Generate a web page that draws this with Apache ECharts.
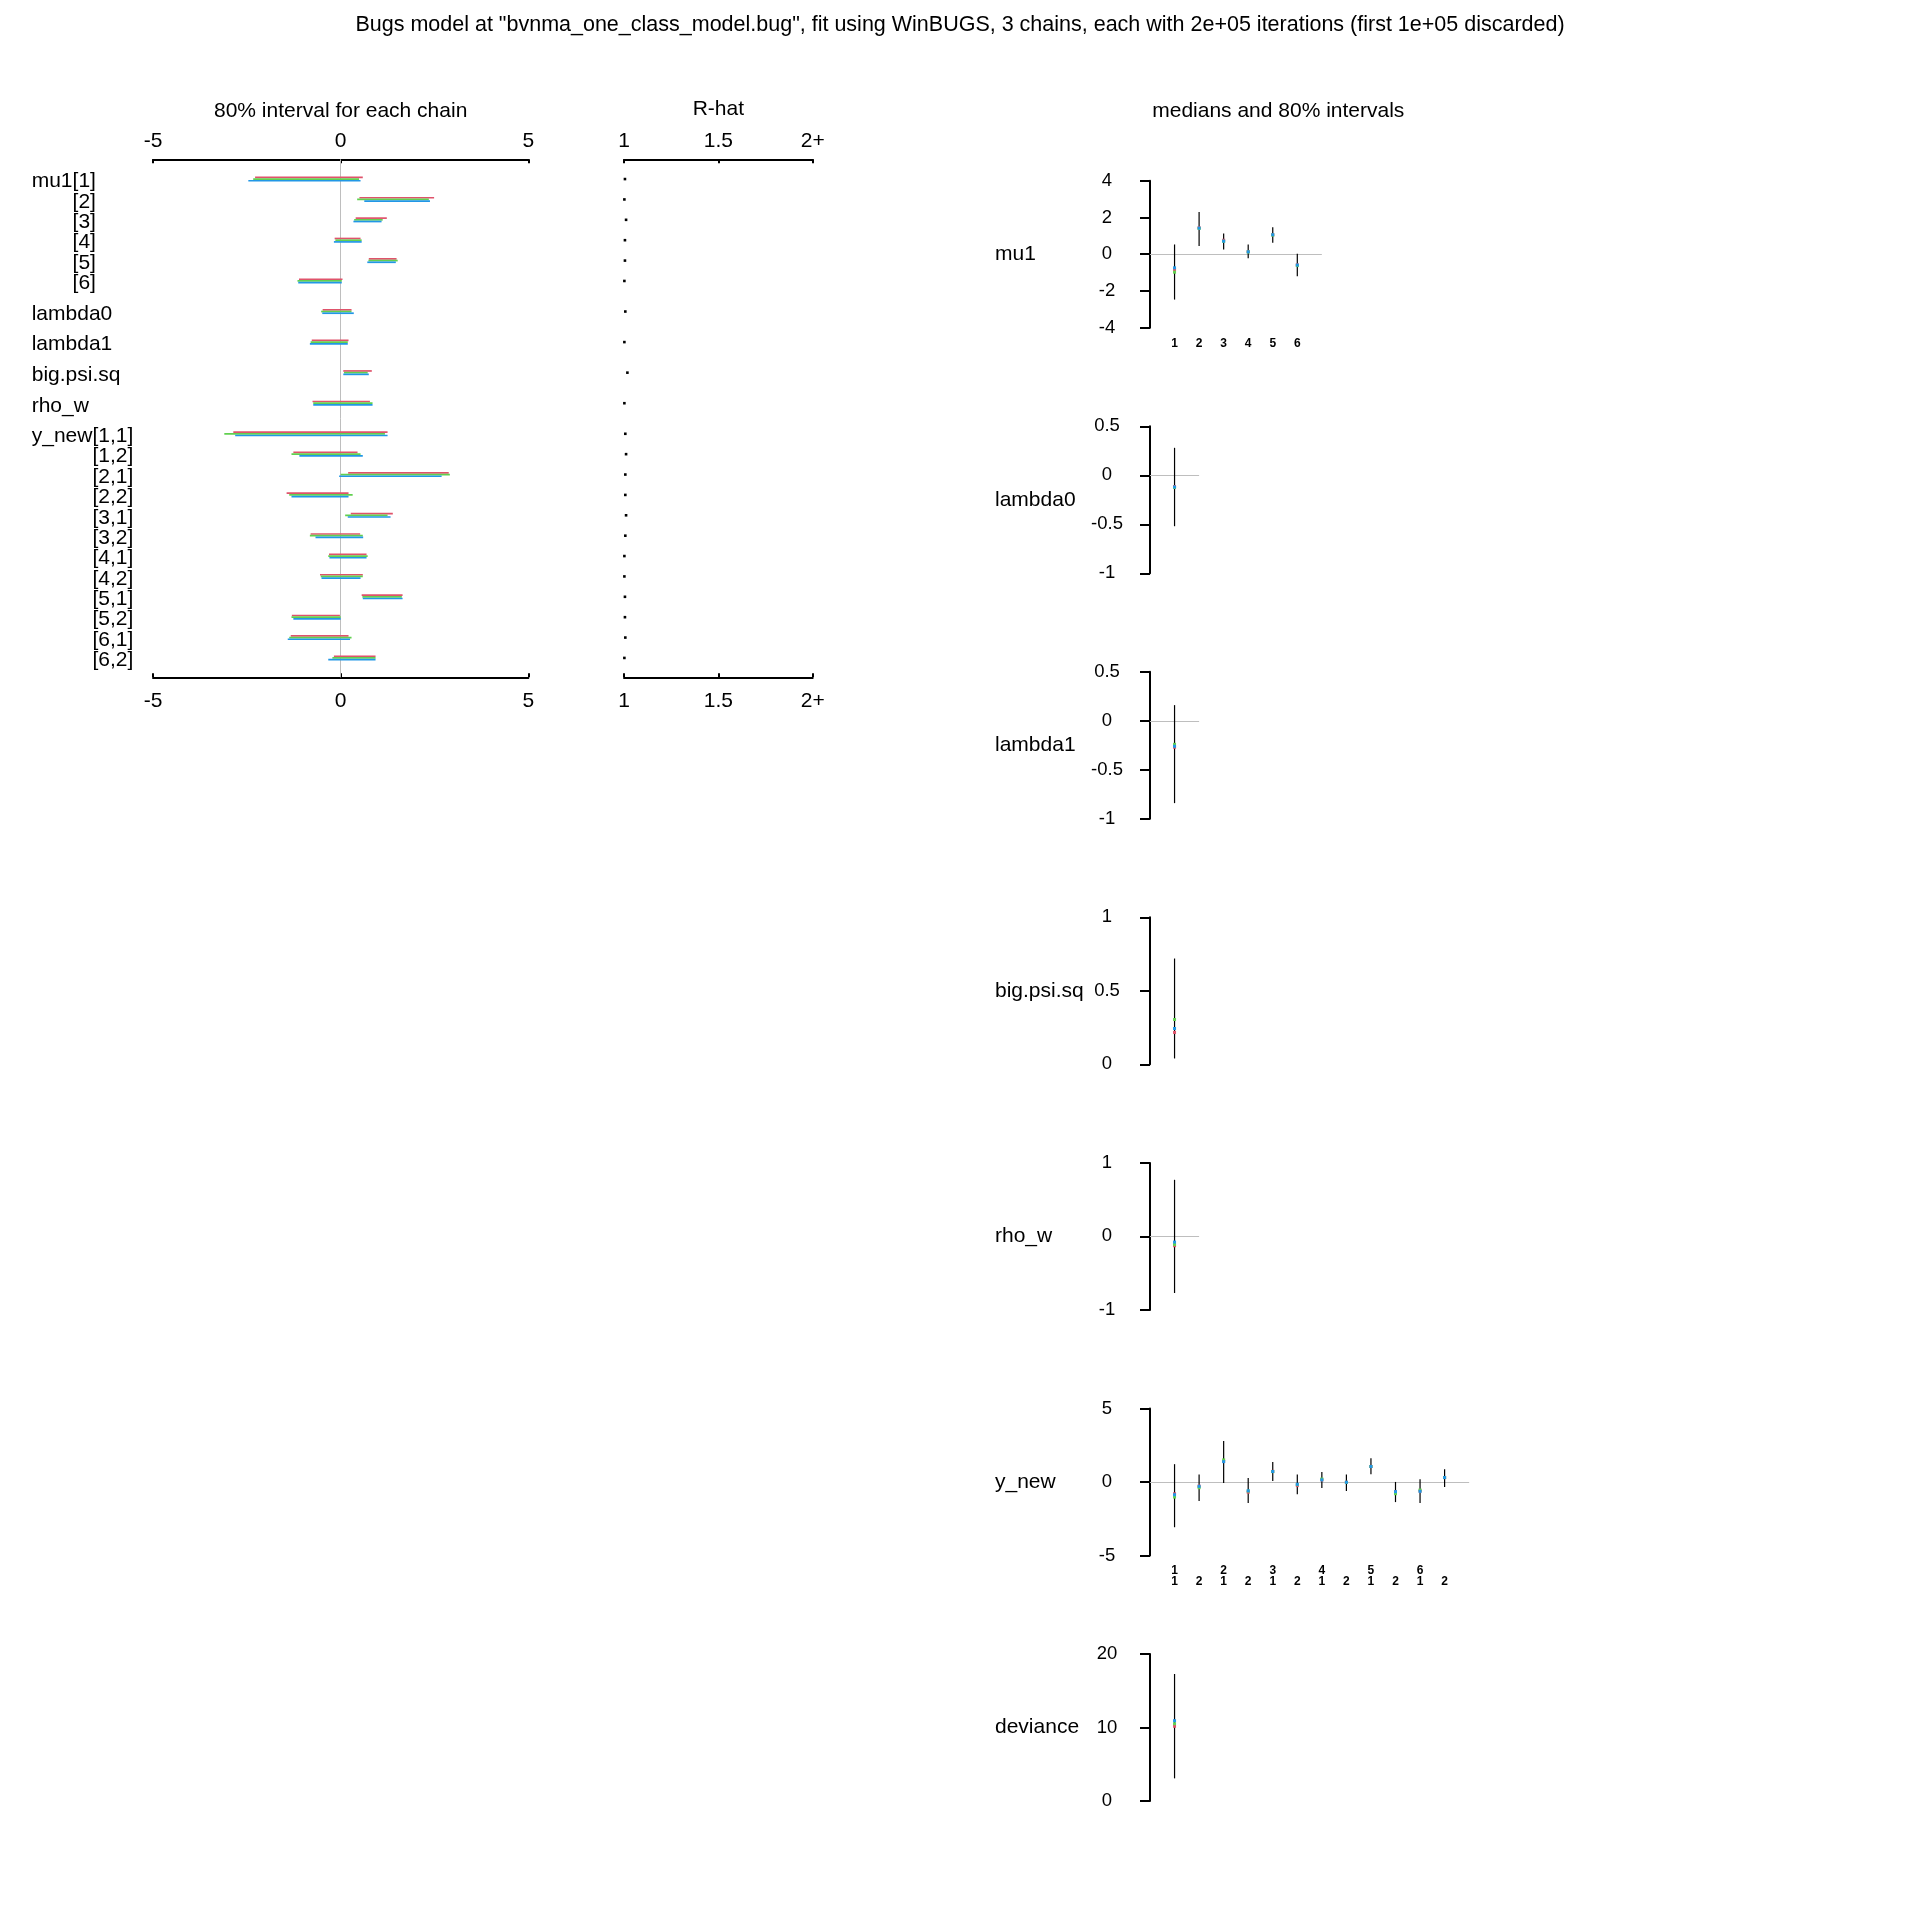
<!DOCTYPE html>
<html><head><meta charset="utf-8">
<script src="https://cdn.jsdelivr.net/npm/echarts@6/dist/echarts.min.js"></script>
<style>html,body{margin:0;padding:0;background:#fff}#c{width:1920px;height:1920px}</style>
</head><body><div id="c"></div>
<script>
const FONT = '"Liberation Sans", Arial, sans-serif';
const BLACK = '#000000', GRAY = '#BEBEBE';
const CH_COLORS = ['#DF536B', '#61D04F', '#2297E6'];

const mainTitle = 'Bugs model at "bvnma_one_class_model.bug", fit using WinBUGS, 3 chains, each with 2e+05 iterations (first 1e+05 discarded)';

// ---- left panel: 80% interval for each chain ----
const groupNames = ['mu1', 'lambda0', 'lambda1', 'big.psi.sq', 'rho_w', 'y_new'];
const groupIndices = [
  ['[1]', '[2]', '[3]', '[4]', '[5]', '[6]'],
  [''], [''], [''], [''],
  ['[1,1]', '[1,2]', '[2,1]', '[2,2]', '[3,1]', '[3,2]', '[4,1]', '[4,2]', '[5,1]', '[5,2]', '[6,1]', '[6,2]']
];
const redLo   = [-2.28, 0.50, 0.40, -0.16, 0.75, -1.11, -0.48, -0.77, 0.07, -0.75, -2.86, -1.26, 0.20, -1.44, 0.27, -0.80, -0.31, -0.55, 0.56, -1.30, -1.33, -0.18];
const redHi   = [0.59, 2.49, 1.23, 0.53, 1.49, 0.05, 0.29, 0.21, 0.83, 0.78, 1.25, 0.45, 2.88, 0.21, 1.39, 0.52, 0.69, 0.59, 1.65, -0.02, 0.21, 0.93];
const greenLo = [-2.33, 0.44, 0.36, -0.14, 0.74, -1.15, -0.52, -0.80, 0.09, -0.73, -3.10, -1.31, 0.00, -1.37, 0.12, -0.82, -0.33, -0.53, 0.58, -1.31, -1.37, -0.22];
const greenHi = [0.49, 2.35, 1.12, 0.56, 1.52, 0.03, 0.29, 0.19, 0.72, 0.85, 1.18, 0.53, 2.91, 0.32, 1.25, 0.59, 0.72, 0.59, 1.63, 0.00, 0.29, 0.93];
const blueLo  = [-2.46, 0.63, 0.34, -0.18, 0.71, -1.13, -0.49, -0.82, 0.07, -0.73, -2.81, -1.10, -0.04, -1.31, 0.19, -0.67, -0.30, -0.51, 0.59, -1.26, -1.41, -0.33];
const blueHi  = [0.53, 2.38, 1.09, 0.56, 1.47, 0.03, 0.35, 0.19, 0.75, 0.85, 1.25, 0.59, 2.69, 0.21, 1.33, 0.60, 0.69, 0.53, 1.65, 0.00, 0.25, 0.93];

// ---- R-hat ----
const rhat = [1.005, 1.002, 1.011, 1.005, 1.005, 1.002, 1.007, 1.002, 1.018, 1.002, 1.007, 1.011, 1.007, 1.007, 1.011, 1.007, 1.002, 1.002, 1.005, 1.005, 1.007, 1.002];
const rhatTickLabels = ['1', '1.5', '2+'];

// ---- right panels: medians and 80% intervals ----
const mu1Lo = [-2.47, 0.44, 0.25, -0.22, 0.62, -1.20];
const mu1Hi = [0.53, 2.30, 1.13, 0.53, 1.47, 0.02];
const mu1MedR = [-0.83, 1.44, 0.76, 0.14, 1.06, -0.58];
const mu1MedG = [-0.98, 1.40, 0.70, 0.12, 1.04, -0.62];
const mu1MedB = [-0.74, 1.42, 0.71, 0.13, 1.06, -0.59];
const mu1Ticks = ['1', '2', '3', '4', '5', '6'];

const lambda0Lo = [-0.52], lambda0Hi = [0.28];
const lambda0MedR = [-0.115], lambda0MedG = [-0.125], lambda0MedB = [-0.12];

const lambda1Lo = [-0.84], lambda1Hi = [0.16];
const lambda1MedR = [-0.27], lambda1MedG = [-0.24], lambda1MedB = [-0.26];

const bigPsiLo = [0.04], bigPsiHi = [0.72];
const bigPsiMedR = [0.217], bigPsiMedG = [0.305], bigPsiMedB = [0.244];

const rhoLo = [-0.77], rhoHi = [0.77];
const rhoMedR = [-0.127], rhoMedG = [-0.11], rhoMedB = [-0.077];

const ynewLo = [-3.08, -1.30, -0.07, -1.44, 0.07, -0.84, -0.41, -0.62, 0.53, -1.37, -1.44, -0.34];
const ynewHi = [1.21, 0.50, 2.79, 0.27, 1.35, 0.50, 0.68, 0.50, 1.62, 0.00, 0.18, 0.87];
const ynewMedR = [-0.80, -0.28, 1.40, -0.70, 0.72, -0.25, 0.14, -0.02, 1.05, -0.66, -0.62, 0.30];
const ynewMedG = [-1.03, -0.39, 1.50, -0.62, 0.70, -0.18, 0.20, -0.03, 1.05, -0.80, -0.55, 0.30];
const ynewMedB = [-0.87, -0.30, 1.38, -0.60, 0.71, -0.16, 0.14, -0.02, 1.05, -0.66, -0.64, 0.30];
const ynewTicks = ['1\n1', ' \n2', '2\n1', ' \n2', '3\n1', ' \n2', '4\n1', ' \n2', '5\n1', ' \n2', '6\n1', ' \n2'];

const devLo = [3.08], devHi = [17.28];
const devMedR = [10.16], devMedG = [10.52], devMedB = [10.93];

const panels = [
  {name: 'mu1', lo: mu1Lo, hi: mu1Hi, med: [mu1MedR, mu1MedG, mu1MedB], ticks: mu1Ticks, min: -4, max: 4, interval: 2},
  {name: 'lambda0', lo: lambda0Lo, hi: lambda0Hi, med: [lambda0MedR, lambda0MedG, lambda0MedB], ticks: null, min: -1, max: 0.5, interval: 0.5},
  {name: 'lambda1', lo: lambda1Lo, hi: lambda1Hi, med: [lambda1MedR, lambda1MedG, lambda1MedB], ticks: null, min: -1, max: 0.5, interval: 0.5},
  {name: 'big.psi.sq', lo: bigPsiLo, hi: bigPsiHi, med: [bigPsiMedR, bigPsiMedG, bigPsiMedB], ticks: null, min: 0, max: 1, interval: 0.5},
  {name: 'rho_w', lo: rhoLo, hi: rhoHi, med: [rhoMedR, rhoMedG, rhoMedB], ticks: null, min: -1, max: 1, interval: 1},
  {name: 'y_new', lo: ynewLo, hi: ynewHi, med: [ynewMedR, ynewMedG, ynewMedB], ticks: ynewTicks, min: -5, max: 5, interval: 5},
  {name: 'deviance', lo: devLo, hi: devHi, med: [devMedR, devMedG, devMedB], ticks: null, min: 0, max: 20, interval: 10}
];

// ---- build row positions for left panels ----
const rows = [];
(function () {
  let u = 0;
  groupNames.forEach((g, gi) => {
    if (gi > 0) u += 0.5;
    groupIndices[gi].forEach((ix, k) => {
      const lab = (k === 0) ? ('{v|' + g + ix + '}') : ('{h|' + g + '}{v|' + ix + '}');
      rows.push({u: u, label: lab});
      u += 1;
    });
  });
})();

const chart = echarts.init(document.getElementById('c'), null, {renderer: 'canvas', width: 1920, height: 1920});

const grids = [], xAxes = [], yAxes = [], series = [];
const txt = (size, extra) => Object.assign({fontSize: size, color: BLACK, fontFamily: FONT, fontWeight: 'normal'}, extra || {});
const axLine = {show: true, onZero: false, lineStyle: {color: BLACK, width: 2}};
const axTickIn = {show: true, inside: true, length: 4, lineStyle: {color: BLACK, width: 2}};

// grid 0 : chain intervals; grid 1 : R-hat
grids.push({left: 153, top: 159.3, width: 375.3, height: 518});
grids.push({left: 624, top: 159.3, width: 188.7, height: 518});

const leftFmt = v => String(v);
const rhatFmt = v => rhatTickLabels[Math.round((v - 1) * 2)];

xAxes.push({gridIndex: 0, type: 'value', position: 'top', min: -5, max: 5, interval: 5,
  axisLine: axLine, axisTick: axTickIn, splitLine: {show: false},
  axisLabel: txt(21, {margin: 8, formatter: leftFmt}),
  name: '80% interval for each chain', nameLocation: 'middle', nameGap: 38, nameTextStyle: txt(21)});
xAxes.push({gridIndex: 0, type: 'value', position: 'bottom', min: -5, max: 5, interval: 5,
  axisLine: axLine, axisTick: axTickIn, splitLine: {show: false},
  axisLabel: txt(21, {margin: 13, formatter: leftFmt})});
xAxes.push({gridIndex: 1, type: 'value', position: 'top', min: 1, max: 2, interval: 0.5,
  axisLine: axLine, axisTick: axTickIn, splitLine: {show: false},
  axisLabel: txt(21, {margin: 8, formatter: rhatFmt}),
  name: 'R-hat', nameLocation: 'middle', nameGap: 40, nameTextStyle: txt(21)});
xAxes.push({gridIndex: 1, type: 'value', position: 'bottom', min: 1, max: 2, interval: 0.5,
  axisLine: axLine, axisTick: axTickIn, splitLine: {show: false},
  axisLabel: txt(21, {margin: 13, formatter: rhatFmt})});

yAxes.push({gridIndex: 0, type: 'value', inverse: true, min: -0.97, max: 24.45, show: false});
yAxes.push({gridIndex: 1, type: 'value', inverse: true, min: -0.97, max: 24.45, show: false});

// gray zero line (left)
series.push({type: 'scatter', xAxisIndex: 0, yAxisIndex: 0, data: [], z: 1, silent: true,
  markLine: {silent: true, z: 1, symbol: 'none', label: {show: false}, animation: false,
    lineStyle: {color: GRAY, width: 1, type: 'solid', opacity: 1}, data: [{xAxis: 0}]}});

// chain interval bars
const chainLo = [redLo, greenLo, blueLo], chainHi = [redHi, greenHi, blueHi];
const chainOffset = [-1.7, 0, 1.7];
[0, 1, 2].forEach(c => {
  series.push({
    type: 'custom', xAxisIndex: 0, yAxisIndex: 0, z: 3, silent: true,
    data: rows.map((r, i) => [chainLo[c][i], chainHi[c][i], r.u]),
    encode: {x: [0, 1], y: 2},
    renderItem: (params, api) => {
      const p1 = api.coord([api.value(0), api.value(2)]);
      const p2 = api.coord([api.value(1), api.value(2)]);
      const off = chainOffset[c];
      return {type: 'line', shape: {x1: p1[0], y1: p1[1] + off, x2: p2[0], y2: p2[1] + off},
        style: {stroke: CH_COLORS[c], lineWidth: 1.7}};
    }
  });
});

// row labels
series.push({
  type: 'scatter', xAxisIndex: 0, yAxisIndex: 0, symbolSize: 0, silent: true, z: 4,
  itemStyle: {opacity: 1},
  data: rows.map(r => [-5, r.u]),
  label: {show: true, position: 'left', distance: 0, align: 'left', verticalAlign: 'middle', offset: [-121.3, 2.5],
    color: BLACK, opacity: 1, fontSize: 21, fontFamily: FONT,
    formatter: p => rows[p.dataIndex].label,
    rich: {h: {color: 'rgba(0,0,0,0)', fontSize: 21, fontFamily: FONT}, v: {color: BLACK, fontSize: 21, fontFamily: FONT}}}
});

// R-hat dots
series.push({
  type: 'scatter', xAxisIndex: 2, yAxisIndex: 1, symbol: 'rect', symbolSize: 2.6, silent: true,
  itemStyle: {color: BLACK, opacity: 1}, data: rows.map((r, i) => [rhat[i], r.u])
});

// right panels
panels.forEach((p, i) => {
  const gi = 2 + i;
  const n = p.lo.length;
  const xi = xAxes.length, yi = yAxes.length;
  grids.push({left: 1150, top: 180.7 + 245.55 * i, width: (n + 1) * 24.55, height: 147});
  xAxes.push({gridIndex: gi, type: 'value', min: 0, max: n + 1, interval: 1,
    axisLine: {show: false, onZero: false}, axisTick: {show: false}, splitLine: {show: false},
    axisLabel: {show: !!p.ticks, fontSize: 12, fontWeight: 'bold', lineHeight: 11, margin: 10, color: BLACK, fontFamily: FONT,
      formatter: v => (p.ticks && v >= 1 && v <= n) ? p.ticks[Math.round(v) - 1] : ''}});
  yAxes.push({gridIndex: gi, type: 'value', min: p.min, max: p.max, interval: p.interval,
    axisLine: {show: true, onZero: false, lineStyle: {color: BLACK, width: 2}},
    axisTick: {show: true, inside: false, length: 10, lineStyle: {color: BLACK, width: 2}},
    splitLine: {show: false},
    axisLabel: txt(18.5, {align: 'center', margin: 43, padding: [5, 0, 0, 0]}),
    name: p.name, nameLocation: 'middle', nameGap: 155, nameRotate: 0,
    nameTextStyle: txt(21, {align: 'left', verticalAlign: 'middle', padding: [6, 0, 0, 0]})});
  // zero reference line
  if (p.min < 0 && p.max > 0) {
    series.push({type: 'scatter', xAxisIndex: xi, yAxisIndex: yi, data: [], z: 1, silent: true,
      markLine: {silent: true, z: 1, symbol: 'none', label: {show: false}, animation: false,
        lineStyle: {color: GRAY, width: 1, type: 'solid', opacity: 1}, data: [{yAxis: 0}]}});
  }
  // 80% interval
  series.push({
    type: 'custom', xAxisIndex: xi, yAxisIndex: yi, z: 2, silent: true,
    data: p.lo.map((lo, k) => [k + 1, lo, p.hi[k]]),
    encode: {x: 0, y: [1, 2]},
    renderItem: (params, api) => {
      const a = api.coord([api.value(0), api.value(1)]);
      const b = api.coord([api.value(0), api.value(2)]);
      return {type: 'line', shape: {x1: a[0], y1: a[1], x2: b[0], y2: b[1]}, style: {stroke: BLACK, lineWidth: 1.2}};
    }
  });
  // medians per chain
  [0, 1, 2].forEach(c => {
    series.push({type: 'scatter', xAxisIndex: xi, yAxisIndex: yi, z: 3 + c, silent: true,
      symbol: 'rect', symbolSize: 3, itemStyle: {color: CH_COLORS[c], opacity: 1},
      data: p.med[c].map((m, k) => [k + 1, m])});
  });
});

chart.setOption({
  animation: false,
  backgroundColor: '#ffffff',
  textStyle: {fontFamily: FONT},
  title: [
    {text: mainTitle, left: 'center', top: 14.5, padding: 0, textStyle: txt(21.5)},
    {text: 'medians and 80% intervals', left: 1278.3, textAlign: 'center', top: 100.5, padding: 0, textStyle: txt(21)}
  ],
  grid: grids,
  xAxis: xAxes,
  yAxis: yAxes,
  series: series
});
</script>
</body></html>
